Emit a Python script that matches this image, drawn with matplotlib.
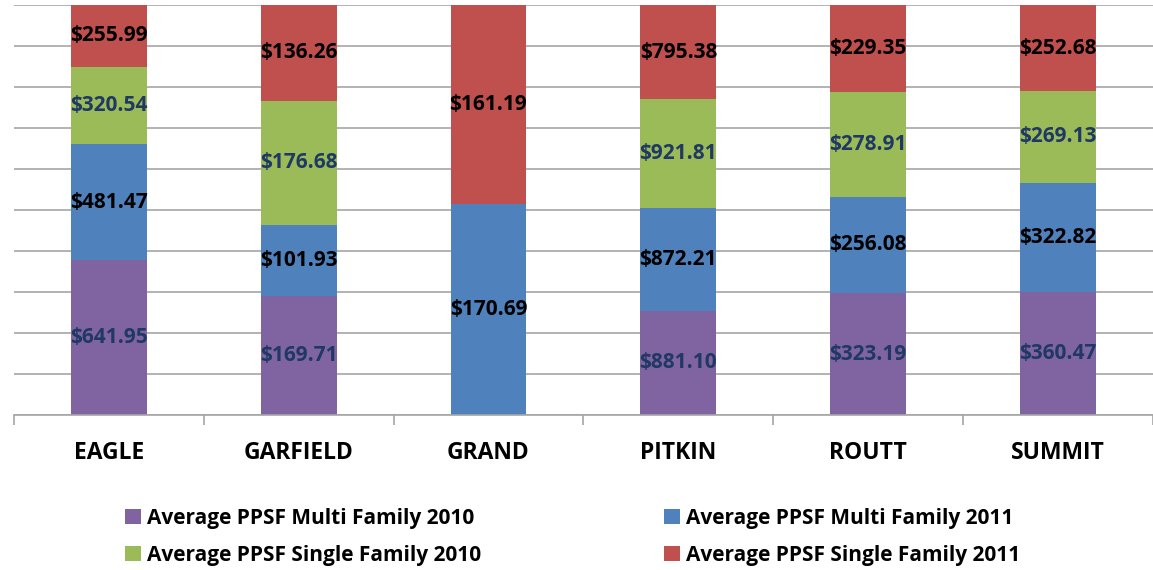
import matplotlib.pyplot as plt
import numpy as np

counties = ["EAGLE", "GARFIELD", "GRAND", "PITKIN", "ROUTT", "SUMMIT"]
mf_2010 = [641.95, 169.71, 0.0, 881.10, 323.19, 360.47]
mf_2011 = [481.47, 101.93, 170.69, 872.21, 256.08, 322.82]
sf_2010 = [320.54, 176.68, 0.0, 921.81, 278.91, 269.13]
sf_2011 = [255.99, 136.26, 161.19, 795.38, 229.35, 252.68]

series = [
    ("Average PPSF Multi Family 2010", mf_2010, "#8064A2", "#1F3864"),
    ("Average PPSF Multi Family 2011", mf_2011, "#4F81BD", "black"),
    ("Average PPSF Single Family 2010", sf_2010, "#9BBB59", "#1F3864"),
    ("Average PPSF Single Family 2011", sf_2011, "#C0504D", "black"),
]

plt.rcParams['font.family'] = ['Open Sans', 'DejaVu Sans']

fig = plt.figure(figsize=(11.53, 5.70), dpi=100)
ax = fig.add_axes([0.012, 0.272, 0.988, 0.719])

x = np.arange(len(counties))
totals = np.array(mf_2010) + np.array(mf_2011) + np.array(sf_2010) + np.array(sf_2011)
bottom = np.zeros(len(counties))
handles = {}
for name, vals, color, tcolor in series:
    share = np.array(vals) / totals * 100
    b = ax.bar(x, share, 0.4, bottom=bottom, color=color, label=name, zorder=2)
    handles[name] = b
    for xi, s, bt, v in zip(x, share, bottom, vals):
        if v > 0:
            ax.text(xi, bt + s / 2, f"${v:,.2f}", ha="center", va="center",
                    fontsize=15, fontweight="bold", color=tcolor, zorder=3)
    bottom += share

ax.set_xlim(-0.5, len(counties) - 0.5)
ax.set_ylim(0, 100)
ax.set_yticks(np.arange(0, 101, 10))
ax.yaxis.grid(True, color="#A6A6A6", linewidth=1.2, zorder=0)
ax.tick_params(axis="y", left=False, labelleft=False)
ax.set_xticks(x)
ax.set_xticklabels(counties, fontsize=16.5, fontweight="bold")
ax.set_xticks(np.arange(-0.5, len(counties)), minor=True)
ax.tick_params(axis="x", which="major", length=0, pad=19)
ax.tick_params(axis="x", which="minor", length=7, color="#A6A6A6", width=1.2)
for sp in ["left", "right", "top"]:
    ax.spines[sp].set_visible(False)
ax.spines["bottom"].set_color("#A6A6A6")
ax.spines["bottom"].set_linewidth(1.2)

order = ["Average PPSF Multi Family 2010", "Average PPSF Single Family 2010",
         "Average PPSF Multi Family 2011", "Average PPSF Single Family 2011"]
leg = fig.legend([handles[n] for n in order], order, ncol=2, loc="center left",
                 bbox_to_anchor=(0.1085, 0.058), frameon=False, borderaxespad=0,
                 borderpad=0, prop={"size": 15, "weight": "bold"},
                 handlelength=0.75, handleheight=0.75, handletextpad=0.3,
                 columnspacing=8.8, labelspacing=0.75)

fig.savefig("out.png", dpi=100)
